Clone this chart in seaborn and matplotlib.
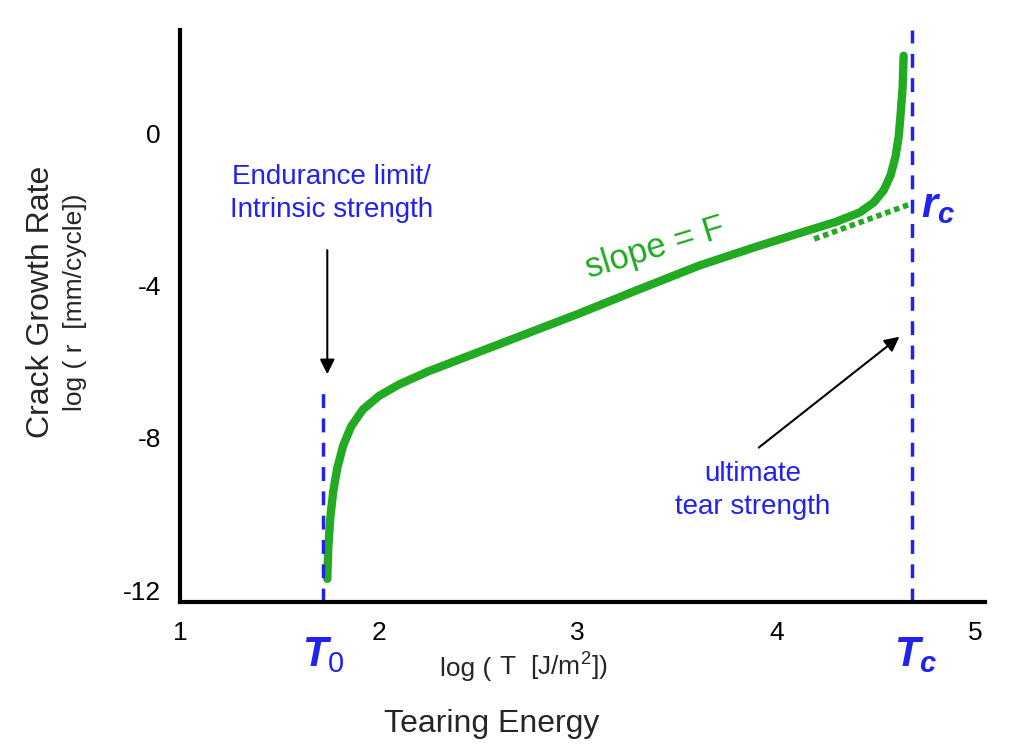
import numpy as np
import pandas as pd
import seaborn as sns
import matplotlib.pyplot as plt

# curva
log_T = [1.74, 1.745, 1.755, 1.77, 1.79, 1.82, 1.86, 1.92, 2.0, 2.1, 2.25, 2.45, 2.7, 3.0, 3.3, 3.61, 3.9, 4.12, 4.3, 4.42, 4.49, 4.54, 4.575, 4.60, 4.615, 4.625, 4.635, 4.64]
log_r = [-11.7, -10.9, -10.1, -9.4, -8.8, -8.2, -7.7, -7.25, -6.9, -6.6, -6.25, -5.85, -5.35, -4.75, -4.12, -3.48, -2.98, -2.62, -2.33, -2.08, -1.82, -1.5, -1.1, -0.6, -0.1, 0.5, 1.2, 2.03]
dot_T = [4.19, 4.67]
dot_r = [-2.78, -1.87]
T0 = 1.72
Tc = 4.68
x_ticks = [1, 2, 3, 4, 5]
y_ticks = [-12, -8, -4, 0]

sns.set_style('white')
plt.rcParams['font.family'] = ['Liberation Sans', 'DejaVu Sans']
plt.rcParams['axes.unicode_minus'] = False
plt.rcParams['mathtext.fontset'] = 'custom'
plt.rcParams['mathtext.it'] = 'Liberation Sans:bold:italic'
plt.rcParams['mathtext.rm'] = 'Liberation Sans'

fig = plt.figure(figsize=(10.24, 7.55), dpi=100)
ax = fig.add_axes([0.176, 0.203, 0.786, 0.757])

df = pd.DataFrame({'T': log_T, 'r': log_r})
sns.lineplot(data=df, x='T', y='r', color='#22aa22', lw=6, sort=False, ax=ax)
ax.plot(dot_T, dot_r, color='#22aa22', lw=4, ls=(0, (1, 0.7)))

blue = '#2222ee'
ax.plot([T0, T0], [-12.3, -6.8], color=blue, lw=2.5, ls=(0, (4, 3)))
ax.plot([Tc, Tc], [-12.3, 2.7], color=blue, lw=2.5, ls=(0, (4, 3)))

ax.set_xlim(1, 5.05)
ax.set_ylim(-12.3, 2.7)
ax.set_xticks(x_ticks)
ax.set_yticks(y_ticks)
ax.tick_params(labelsize=19, length=0, pad=14, labelcolor='black')
for s in ['top', 'right']:
    ax.spines[s].set_visible(False)
for s in ['left', 'bottom']:
    ax.spines[s].set_linewidth(3)
    ax.spines[s].set_color('black')

ax.set_xlabel('')
ax.set_ylabel('')
fig.text(0.48, 0.105, 'log (', ha='right', fontsize=19)
fig.text(0.48, 0.105, ' T  [J/m$^2$])', ha='left', fontsize=19)
fig.text(0.48, 0.03, 'Tearing Energy', ha='center', fontsize=23)
fig.text(0.025, 0.6, 'Crack Growth Rate', rotation=90, va='center', fontsize=23)
fig.text(0.062, 0.6, 'log ( r  [mm/cycle])', rotation=90, va='center', fontsize=19)

ax.text(T0, -14.0, '$T_0$', color=blue, fontsize=30, ha='center')
ax.text(Tc + 0.02, -14.0, '$T_c$', color=blue, fontsize=30, ha='center')
ax.text(4.73, -2.2, '$r_c$', color=blue, fontsize=30)
ax.text(T0 + 0.04, -2.2, 'Endurance limit/\nIntrinsic strength', color=blue, fontsize=20, ha='center', linespacing=1.35)
ax.text(3.88, -10.0, 'ultimate\ntear strength', color=blue, fontsize=20, ha='center', linespacing=1.35)
ax.text(3.02, -3.8, 'slope = F', color='#22aa22', fontsize=25, rotation=17)
ax.annotate('', xy=(T0 + 0.02, -6.4), xytext=(T0 + 0.02, -3.0),
            arrowprops=dict(arrowstyle='-|>', color='black', lw=1.5, mutation_scale=22))
ax.annotate('', xy=(Tc - 0.05, -5.3), xytext=(3.9, -8.3),
            arrowprops=dict(arrowstyle='-|>', color='black', lw=1.5, mutation_scale=22))

fig.savefig('out.png', dpi=100)
